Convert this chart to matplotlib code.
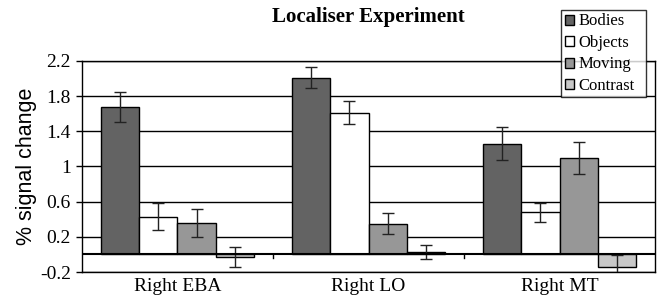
import numpy as np
from matplotlib import pyplot as plt

regions = ['Right EBA', 'Right LO', 'Right MT']
conditions = ['Bodies', 'Objects', 'Moving', 'Contrast']
values = {
    'Bodies':   [1.68, 2.01, 1.26],
    'Objects':  [0.43, 1.61, 0.48],
    'Moving':   [0.36, 0.35, 1.10],
    'Contrast': [-0.03, 0.03, -0.14],
}
errors = {
    'Bodies':   [0.17, 0.12, 0.19],
    'Objects':  [0.15, 0.13, 0.11],
    'Moving':   [0.16, 0.12, 0.18],
    'Contrast': [0.11, 0.08, 0.13],
}
colors = ['#636363', '#ffffff', '#979797', '#c8c8c8']
yticks = [-0.2, 0.2, 0.6, 1, 1.4, 1.8, 2.2]
yticklabels = ['-0.2', '0.2', '0.6', '1', '1.4', '1.8', '2.2']

serif = 'Liberation Serif'

fig = plt.figure(figsize=(6.61, 2.99), dpi=100)
ax = fig.add_axes([0.124, 0.0903, 0.867, 0.7057])

x = np.arange(len(regions))
w = 0.2
for i, c in enumerate(conditions):
    ax.bar(x + (i - 1.5) * w, values[c], w, color=colors[i], edgecolor='black',
           linewidth=1, label=c, zorder=3)
    ax.errorbar(x + (i - 1.5) * w, values[c], yerr=errors[c], fmt='none',
                ecolor='#222222', elinewidth=1, capsize=4, capthick=1, zorder=4)

ax.set_xlim(-0.5, 2.5)
ax.set_ylim(-0.2, 2.2)
ax.set_yticks(yticks)
ax.set_yticklabels(yticklabels, fontfamily=serif, fontsize=14)
for t in yticks:
    ax.axhline(t, color='black', lw=1, zorder=1)
ax.axhline(0, color='black', lw=1.5, zorder=5)

# group labels at centres, small ticks at group boundaries on the zero line
ax.set_xticks(x)
ax.set_xticklabels(regions, fontfamily=serif, fontsize=14)
ax.tick_params(axis='x', length=0, pad=4)
ax.tick_params(axis='y', length=4, width=1, pad=4)
for b in [0.5, 1.5]:
    ax.plot([b, b], [0, -0.04], color='black', lw=1, zorder=5)

for s in ax.spines.values():
    s.set_linewidth(1)

ax.set_ylabel('% signal change', fontfamily='Liberation Sans', fontsize=15.5)
ax.yaxis.set_label_coords(-0.078, 0.5)
fig.text(0.557, 0.943, 'Localiser Experiment', fontfamily=serif, fontweight='bold',
         fontsize=15, ha='center', va='center')

leg = fig.legend(loc='upper left', bbox_to_anchor=(0.849, 0.675, 0.128, 0.291),
                 mode='expand',
                 prop={'family': serif, 'size': 12}, frameon=True, fancybox=False,
                 edgecolor='black', handlelength=0.55, handleheight=0.55,
                 handletextpad=0.3, borderpad=0.2, labelspacing=0.33,
                 borderaxespad=0)
leg.get_frame().set_linewidth(1)

plt.savefig('out.png', dpi=100)
